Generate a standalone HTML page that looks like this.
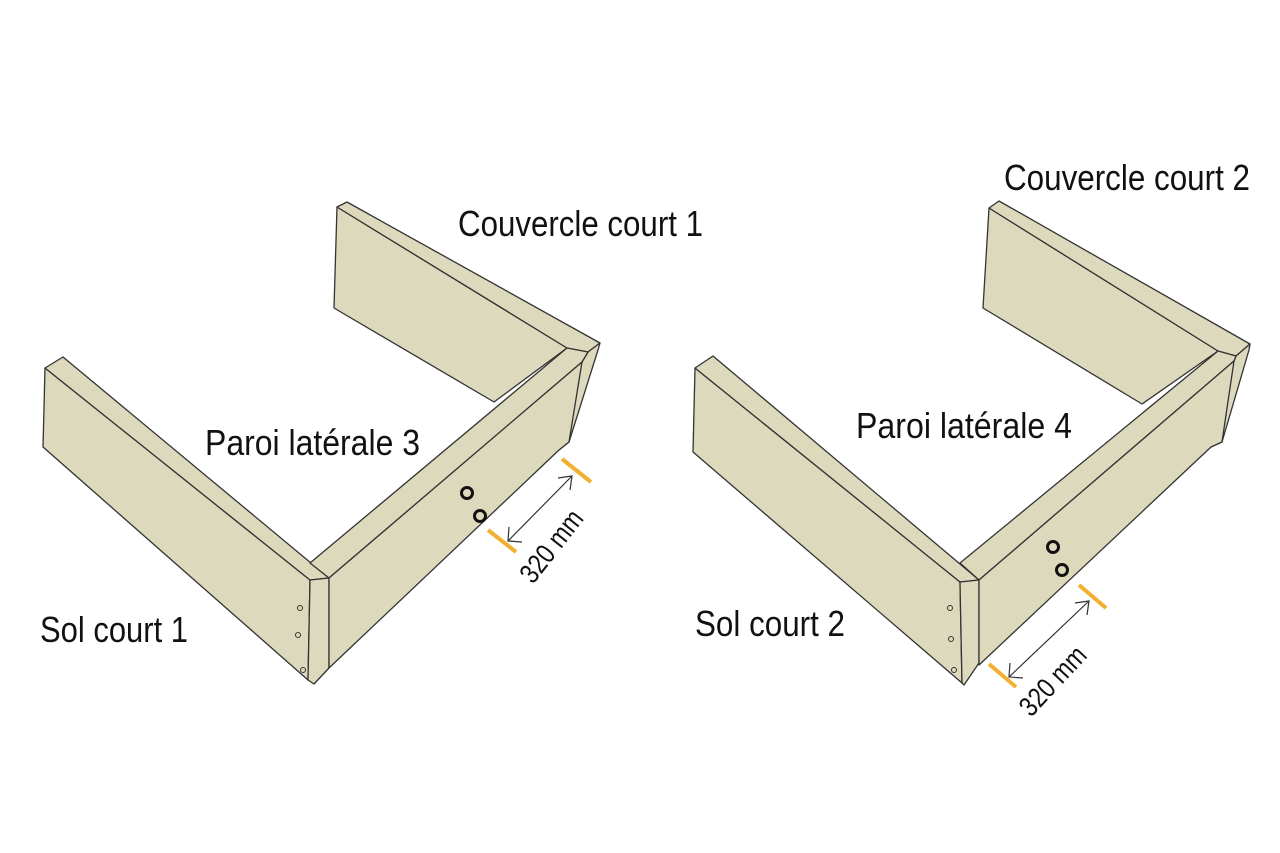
<!DOCTYPE html>
<html><head><meta charset="utf-8"><style>
html,body{margin:0;padding:0;background:#fff;}
svg{display:block;}
text{font-family:"Liberation Sans Narrow","Liberation Sans",sans-serif;fill:#111;}
</style></head><body>
<svg width="1280" height="853" viewBox="0 0 1280 853" xmlns="http://www.w3.org/2000/svg">
<g fill="#ddd9bc" stroke="#333" stroke-width="1.3" stroke-linejoin="round">
<polygon points="337,207 567,348 494,402 334,308"/>
<polygon points="337,207 347,202 600,343 588,352 567,348"/>
<polygon points="582,362 588,352 600,343 598,350 569,442 559,450"/>
<polygon points="45,368 310,580 308,680 43,447"/>
<polygon points="45,368 63,357 329,578 310,580"/>
<polygon points="310,580 329,578 329,668 314,684 308,680"/>
<polygon points="310,563 567,348 588,352 582,362 329,578"/>
<polygon points="329,578 582,362 569,442 559,450 329,668"/>
<polygon points="989,208 1218,351 1142,404 983,308"/>
<polygon points="989,208 999,201 1250,344 1236,356 1218,351"/>
<polygon points="1234,361 1236,356 1250,344 1249,350 1222,442 1211,447"/>
<polygon points="695,368 960,582 962,683 693,452"/>
<polygon points="695,368 713,356 979,580 960,582"/>
<polygon points="960,582 979,580 979,663 964,685 962,683"/>
<polygon points="960,563 1218,351 1236,356 1234,361 979,580"/>
<polygon points="979,580 1234,361 1222,442 1211,447 979,665"/>
</g>
<g fill="none" stroke="#333" stroke-width="1">
<circle cx="300" cy="608" r="2.5"/><circle cx="298" cy="635" r="2.5"/><circle cx="303" cy="670" r="2.5"/>
<circle cx="950" cy="608" r="2.5"/><circle cx="951" cy="639" r="2.5"/><circle cx="954" cy="670" r="2.5"/>
</g>
<g fill="none" stroke="#111" stroke-width="3">
<circle cx="467" cy="493" r="5.5"/><circle cx="480" cy="516" r="5.5"/>
<circle cx="1053" cy="547" r="5.5"/><circle cx="1062" cy="570" r="5.5"/>
</g>
<g stroke="#f0b030" stroke-width="4">
<line x1="562" y1="459" x2="591" y2="482"/>
<line x1="488" y1="530" x2="516" y2="552"/>
<line x1="1079" y1="585" x2="1106" y2="608"/>
<line x1="989" y1="664" x2="1016" y2="687"/>
</g>
<g stroke="#333" stroke-width="1.2" fill="none">
<line x1="508" y1="541" x2="572" y2="476"/>
<polyline points="558,478 572,476 570,490"/>
<polyline points="509,527 508,541 522,542"/>
<line x1="1009" y1="677" x2="1089" y2="601"/>
<polyline points="1075,603 1089,601 1087,615"/>
<polyline points="1010,663 1009,677 1023,678"/>
</g>
<text x="458" y="236" font-size="36" textLength="245" lengthAdjust="spacingAndGlyphs">Couvercle court 1</text>
<text x="1004" y="190" font-size="36" textLength="246" lengthAdjust="spacingAndGlyphs">Couvercle court 2</text>
<text x="205" y="455" font-size="36" textLength="215" lengthAdjust="spacingAndGlyphs">Paroi latérale 3</text>
<text x="856" y="438" font-size="36" textLength="216" lengthAdjust="spacingAndGlyphs">Paroi latérale 4</text>
<text x="40" y="642" font-size="36" textLength="148" lengthAdjust="spacingAndGlyphs">Sol court 1</text>
<text x="695" y="636" font-size="36" textLength="150" lengthAdjust="spacingAndGlyphs">Sol court 2</text>
<text transform="translate(533,585) rotate(-52)" font-size="28" textLength="84" lengthAdjust="spacingAndGlyphs">320 mm</text>
<text transform="translate(1031,718) rotate(-47)" font-size="28" textLength="84" lengthAdjust="spacingAndGlyphs">320 mm</text>
</svg>
</body></html>
